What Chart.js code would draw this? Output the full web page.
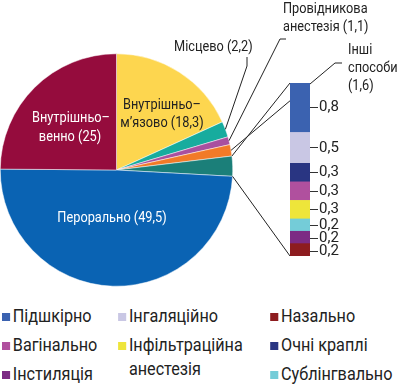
<!DOCTYPE html>
<html lang="uk">
<head>
    <meta charset="UTF-8">
    <title>Способи введення</title>
    <script src="https://cdn.jsdelivr.net/npm/chart.js"></script>
    <style>
        body { margin: 0; background: #fff; font-family: 'Liberation Sans Narrow', 'Roboto', sans-serif; }
        #wrap { position: relative; width: 400px; height: 391px; overflow: hidden; }
        #pieChart { position: absolute; left: 0; top: 0; }
        #barChart { position: absolute; left: 280px; top: 70px; }
        #legend {
            position: absolute; left: 2px; top: 304px;
            display: grid; grid-template-columns: 129px 169px 150px;
            grid-template-rows: 29px 29px 30px; grid-auto-flow: column;
            font-size: 18px; color: #222;
            transform: scaleX(0.9); transform-origin: 0 0;
        }
        .item { display: flex; align-items: flex-start; line-height: 24px; white-space: pre-line; }
        .sq { width: 9px; height: 8px; margin: 9px 3px 0 0; flex: none; }
    </style>
</head>
<body>
<div id="wrap">
    <canvas id="pieChart" width="400" height="300"></canvas>
    <canvas id="barChart" width="90" height="200"></canvas>
    <div id="legend"></div>
</div>
<script>
    // Pie: clockwise from the top
    const pieLabels = ['Внутрішньом’язово', 'Місцево', 'Провідникова анестезія', 'Інші способи', 'Інше', 'Перорально', 'Внутрішньовенно'];
    const pieColors = ['#fdd64f', '#17ac9e', '#a9509f', '#f27a28', '#1b7f79', '#0a63b3', '#950c3d'];
    const pieMain = [18.3, 2.2, 1.1, 1.6];
    const pieTail = [49.5, 25];

    // Breakdown bar, bottom to top
    const barLabels = ['Назально', 'Інстиляція', 'Сублінгвально', 'Інфільтраційна\nанестезія', 'Вагінально', 'Очні краплі', 'Інгаляційно', 'Підшкірно'];
    const barValues = [0.2, 0.2, 0.2, 0.3, 0.3, 0.3, 0.5, 0.8];
    const barColors = ['#8d1c1f', '#7c2b84', '#74ccd8', '#eee53a', '#b0509e', '#293582', '#c9c7e4', '#3b62b0'];

    // legend order, column by column
    const legendOrder = ['Підшкірно', 'Вагінально', 'Інстиляція', 'Інгаляційно', 'Інфільтраційна\nанестезія', 'Назально', 'Очні краплі', 'Сублінгвально'];

    const barTotal = barValues.reduce((a, b) => a + b, 0);
    const pieValues = [...pieMain, barTotal, ...pieTail];
    const fmt = v => String(v).replace('.', ',');

    // tick at each segment middle, pushed down where labels would collide
    const mids = [];
    let acc = 0;
    barValues.forEach(v => { mids.push(acc + v / 2); acc += v; });
    const minGap = 0.215;
    for (let i = mids.length - 2; i >= 0; i--) {
        if (mids[i + 1] - mids[i] < minGap) mids[i] = mids[i + 1] - minGap;
    }

    const font = "'Liberation Sans Narrow', 'Roboto', sans-serif";

    const barChart = new Chart(document.getElementById('barChart'), {
        type: 'bar',
        data: {
            labels: [''],
            datasets: barValues.map((v, i) => ({
                label: barLabels[i],
                data: [v],
                backgroundColor: barColors[i],
                barPercentage: 1,
                categoryPercentage: 1
            }))
        },
        options: {
            responsive: false,
            animation: false,
            layout: { padding: { left: 10, top: 13, bottom: 14, right: 20 } },
            plugins: { legend: { display: false }, tooltip: { enabled: false } },
            scales: {
                x: { stacked: true, display: false },
                y: {
                    stacked: true,
                    position: 'right',
                    min: 0,
                    max: barTotal,
                    afterBuildTicks: axis => { axis.ticks = mids.map(v => ({ value: v })); },
                    afterFit: axis => { axis.width = 40; },
                    grid: { drawOnChartArea: false, tickLength: 8, color: '#333' },
                    border: { display: false },
                    ticks: {
                        autoSkip: false,
                        padding: 1,
                        color: '#222',
                        font: { family: font, size: 15 },
                        callback: (v, i) => fmt(barValues[i])
                    }
                }
            }
        }
    });

    const leaders = {
        id: 'leaders',
        afterDraw(chart) {
            const ctx = chart.ctx;
            const arcs = chart.getDatasetMeta(0).data;
            const at = (arc, ang) => [arc.x + Math.cos(ang) * arc.outerRadius, arc.y + Math.sin(ang) * arc.outerRadius];
            const mid = arc => at(arc, (arc.startAngle + arc.endAngle) / 2);

            ctx.save();
            ctx.strokeStyle = '#222';
            ctx.lineWidth = 1;
            const poly = pts => {
                ctx.beginPath();
                ctx.moveTo(pts[0][0], pts[0][1]);
                pts.slice(1).forEach(p => ctx.lineTo(p[0], p[1]));
                ctx.stroke();
            };
            poly([mid(arcs[1]), [247, 66], [247, 57]]);
            poly([mid(arcs[2]), [280, 39], [286, 39]]);
            poly([mid(arcs[3]), [335, 63], [342, 63]]);

            // connectors to the breakdown bar
            const ca = barChart.chartArea;
            const bx = 280 + ca.left, btop = 70 + ca.top, bbot = 70 + ca.bottom;
            poly([at(arcs[4], arcs[4].startAngle), [bx, btop]]);
            poly([at(arcs[4], arcs[4].endAngle), [bx, bbot]]);

            // narrow text: squeeze horizontally
            const sx = 0.85;
            const text = (s, x, y, align) => {
                ctx.save();
                ctx.textAlign = align;
                ctx.translate(x, y);
                ctx.scale(sx, 1);
                ctx.fillText(s, 0, 0);
                ctx.restore();
            };

            ctx.fillStyle = '#222';
            ctx.font = '15px ' + font;
            ctx.textBaseline = 'middle';
            text('Провідникова', 283, 9, 'left');
            text('анестезія (' + fmt(pieValues[2]) + ')', 283, 27, 'left');
            text('Місцево (' + fmt(pieValues[1]) + ')', 174, 47, 'left');
            text('Інші', 348, 50, 'left');
            text('способи', 348, 68, 'left');
            text('(' + fmt(pieValues[3]) + ')', 348, 86, 'left');

            // in-slice texts
            ctx.fillStyle = '#fff';
            text('Внутрішньо–', 71, 118, 'center');
            text('венно (' + fmt(pieValues[6]) + ')', 70, 137, 'center');
            text('Перорально (' + fmt(pieValues[5]) + ')', 112, 218, 'center');
            ctx.fillStyle = '#222';
            text('Внутрішньо–', 162, 105, 'center');
            text('м’язово (' + fmt(pieValues[0]) + ')', 162, 123, 'center');
            ctx.restore();
        }
    };

    new Chart(document.getElementById('pieChart'), {
        type: 'pie',
        data: {
            labels: pieLabels,
            datasets: [{
                data: pieValues,
                backgroundColor: pieColors,
                borderColor: '#ffffff',
                borderWidth: 0.5
            }]
        },
        options: {
            responsive: false,
            animation: false,
            layout: { padding: { left: 0, right: 167, top: 53, bottom: 13 } },
            plugins: { legend: { display: false }, tooltip: { enabled: false } }
        },
        plugins: [leaders]
    });

    // legend
    const legend = document.getElementById('legend');
    legendOrder.forEach(name => {
        const i = barLabels.indexOf(name);
        const item = document.createElement('div');
        item.className = 'item';
        if (name.includes('\n')) item.style.gridRow = 'span 2';
        const sq = document.createElement('span');
        sq.className = 'sq';
        sq.style.background = barColors[i];
        const txt = document.createElement('span');
        txt.textContent = name;
        item.appendChild(sq);
        item.appendChild(txt);
        legend.appendChild(item);
    });
</script>
</body>
</html>
